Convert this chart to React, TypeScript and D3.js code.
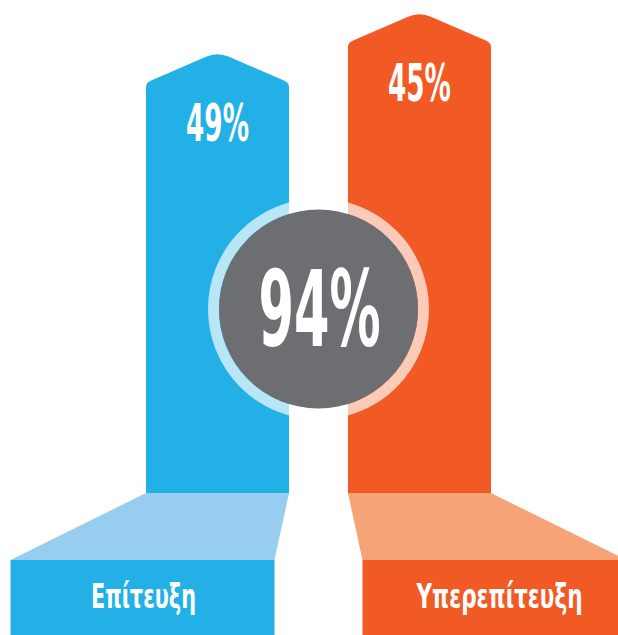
import React, { useEffect, useRef } from 'react';
import * as d3 from 'd3';

// data
const categories = ['Επίτευξη', 'Υπερεπίτευξη'];
const values = [49, 45];

const width = 618;
const height = 635;
const colors = ['#22b0e6', '#f15a24'];
const flareColors = ['#97cdee', '#f6a477'];
const font = "'DejaVu Sans Condensed', 'DejaVu Sans', sans-serif";

const App = () => {
  const svgRef = useRef<SVGSVGElement>(null);

  useEffect(() => {
    const svg = d3.select(svgRef.current);
    svg.selectAll('*').remove();

    const idx = categories.map((_, i) => i);

    // x: bars
    const xScale = d3.scaleBand<number>()
      .domain(idx)
      .range([146, 491])
      .paddingInner(0.292)
      .paddingOuter(0);
    const bw = xScale.bandwidth();

    // staggered shoulders (second arrow stands higher)
    const topScale = d3.scaleLinear().domain([0, 1]).range([83, 43]);
    const barBottom = 493;
    const flareBottom = 560;
    const boxW = 264;
    const boxX = (i: number) => {
      const cx = xScale(i)! + bw / 2;
      const shift = i === 0 ? -75 : 75;
      return cx + shift - boxW / 2;
    };

    /* Flares + label boxes -------------------------------*/
    svg.selectAll('.flare')
      .data(idx)
      .join('path')
      .attr('class', 'flare')
      .attr('fill', i => flareColors[i])
      .attr('d', i => {
        const x0 = xScale(i)!;
        const b0 = boxX(i);
        return `M${x0},${barBottom}L${x0 + bw},${barBottom}L${b0 + boxW},${flareBottom}L${b0},${flareBottom}Z`;
      });

    svg.selectAll('.box')
      .data(idx)
      .join('rect')
      .attr('class', 'box')
      .attr('x', i => boxX(i))
      .attr('y', flareBottom)
      .attr('width', i => Math.min(boxW, width - boxX(i)))
      .attr('height', height - flareBottom)
      .attr('fill', i => colors[i]);

    svg.selectAll('.cat')
      .data(idx)
      .join('text')
      .attr('class', 'cat')
      .attr('x', i => boxX(i) + boxW / 2 + (i === 0 ? 1 : 5))
      .attr('y', 608)
      .attr('text-anchor', 'middle')
      .attr('fill', '#fff')
      .attr('font-family', font)
      .attr('font-weight', 'bold')
      .attr('font-size', 34)
      .attr('textLength', i => (i === 0 ? 105 : 166))
      .attr('lengthAdjust', 'spacingAndGlyphs')
      .text(i => categories[i]);

    /* Arrow bars -------------------------------*/
    svg.selectAll('.bar')
      .data(idx)
      .join('path')
      .attr('class', 'bar')
      .attr('fill', i => colors[i])
      .attr('d', i => {
        const x0 = xScale(i)!;
        const x1 = x0 + bw;
        const cx = x0 + bw / 2;
        const ys = topScale(i);
        const yp = ys - 30;
        const p = d3.path();
        p.moveTo(x0, barBottom);
        p.lineTo(x0, ys + 4);
        p.quadraticCurveTo(x0, ys, x0 + 4, ys - 2);
        p.lineTo(cx - 12, yp + 4);
        p.quadraticCurveTo(cx, yp - 1.5, cx + 12, yp + 4);
        p.lineTo(x1 - 4, ys - 2);
        p.quadraticCurveTo(x1, ys, x1, ys + 4);
        p.lineTo(x1, barBottom);
        p.closePath();
        return p.toString();
      });

    svg.selectAll('.val')
      .data(idx)
      .join('text')
      .attr('class', 'val')
      .attr('x', i => xScale(i)! + bw / 2)
      .attr('y', i => topScale(i) + 58)
      .attr('text-anchor', 'middle')
      .attr('fill', '#fff')
      .attr('font-family', font)
      .attr('font-weight', 'bold')
      .attr('font-size', 51)
      .attr('textLength', 63)
      .attr('lengthAdjust', 'spacingAndGlyphs')
      .text(i => `${values[i]}%`);

    /* Total circle -------------------------------*/
    const cx = (xScale(0)! + bw + xScale(1)!) / 2;
    const cy = 309;
    svg.append('circle')
      .attr('cx', cx)
      .attr('cy', cy)
      .attr('r', 105)
      .attr('fill', 'none')
      .attr('stroke', '#fff')
      .attr('stroke-opacity', 0.68)
      .attr('stroke-width', 11);
    svg.append('circle')
      .attr('cx', cx)
      .attr('cy', cy)
      .attr('r', 99.5)
      .attr('fill', '#6d6e71');
    svg.append('text')
      .attr('x', cx + 1)
      .attr('y', 346)
      .attr('text-anchor', 'middle')
      .attr('fill', '#fff')
      .attr('font-family', font)
      .attr('font-weight', 'bold')
      .attr('font-size', 105)
      .attr('textLength', 122)
      .attr('lengthAdjust', 'spacingAndGlyphs')
      .text(`${d3.sum(values)}%`);
  }, []);

  return (
    <svg
      ref={svgRef}
      width={width}
      height={height}
      style={{ position: 'absolute', left: 0, top: 0, background: '#fff' }}
    />
  );
};

export default App;
